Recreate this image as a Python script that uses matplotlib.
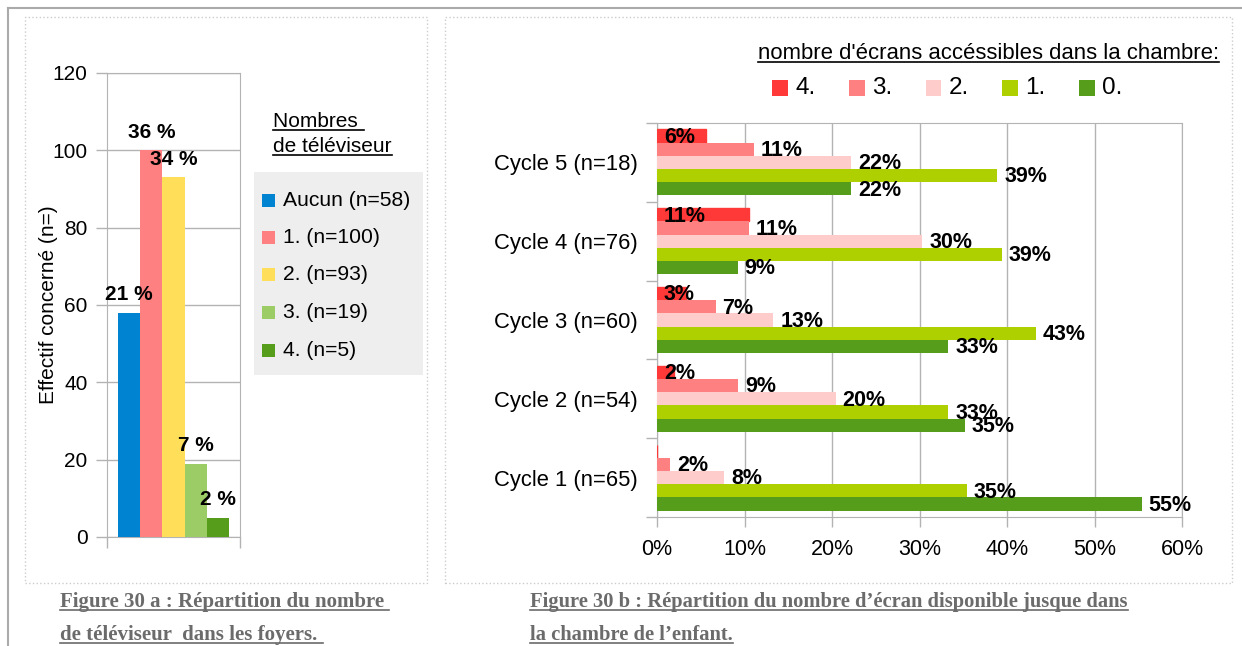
import matplotlib
matplotlib.use('Agg')
import matplotlib.pyplot as plt
from matplotlib.patches import Rectangle
from matplotlib.lines import Line2D
import numpy as np

plt.rcParams['font.family'] = ['Liberation Sans', 'DejaVu Sans']

W, H = 1242, 646

#~~~~~~~~~~~~~~~~~~~~~~~~~~~~~~~~~~~~~~~~~~~~~~~
# Figure 30 a : number of TV sets per household
#~~~~~~~~~~~~~~~~~~~~~~~~~~~~~~~~~~~~~~~~~~~~~~~
tv_labels = ['Aucun (n=58)', '1. (n=100)', '2. (n=93)', '3. (n=19)', '4. (n=5)']
tv_counts = [58, 100, 93, 19, 5]
tv_pct    = ['21 %', '36 %', '34 %', '7 %', '2 %']
tv_colors = ['#0084d1', '#ff8080', '#ffde59', '#9bcc66', '#579d1c']

#~~~~~~~~~~~~~~~~~~~~~~~~~~~~~~~~~~~~~~~~~~~~~~~
# Figure 30 b : screens reachable in the bedroom (% per cycle)
#~~~~~~~~~~~~~~~~~~~~~~~~~~~~~~~~~~~~~~~~~~~~~~~
cycles     = ['Cycle 1 (n=65)', 'Cycle 2 (n=54)', 'Cycle 3 (n=60)', 'Cycle 4 (n=76)', 'Cycle 5 (n=18)']
ecr_names  = ['4.', '3.', '2.', '1.', '0.']
ecr4 = [0.0, 1.9, 3.3, 10.5, 5.6]
ecr3 = [1.5, 9.3, 6.7, 10.5, 11.1]
ecr2 = [7.7, 20.4, 13.3, 30.3, 22.2]
ecr1 = [35.4, 33.3, 43.3, 39.4, 38.9]
ecr0 = [55.4, 35.2, 33.3, 9.2, 22.2]
ecr_colors = ['#ff3838', '#ff8080', '#ffcccc', '#aecf00', '#579d1c']

grey = '#b3b3b3'


def fx(px):
    return px / W


def fy(py):
    return 1 - py / H


fig = plt.figure(figsize=(W / 100, H / 100), dpi=100)
fig.patch.set_facecolor('white')

# page frame + dotted chart boxes
fig.add_artist(Line2D([fx(8), 1], [fy(8), fy(8)], color='#aaaaaa', lw=1.5, transform=fig.transFigure))
fig.add_artist(Line2D([fx(8), fx(8)], [fy(8), 0], color='#aaaaaa', lw=1.5, transform=fig.transFigure))
for x0, x1 in [(25, 427), (445, 1232)]:
    fig.add_artist(Rectangle((fx(x0), fy(583)), (x1 - x0) / W, (583 - 17) / H, fill=False,
                             ls=':', ec='#cccccc', lw=1, transform=fig.transFigure))

# ---------------- left chart ----------------
ax1 = fig.add_axes([fx(107), fy(537), (240 - 107) / W, (537 - 73) / H])
x = np.arange(len(tv_counts))
ax1.bar(x, tv_counts, width=1.0, color=tv_colors, zorder=3)
ax1.set_xlim(-1, 5)
ax1.set_ylim(0, 120)
ax1.set_yticks(range(0, 121, 20))
ax1.set_xticks([-1, 5])
ax1.set_xticklabels([])
ax1.grid(axis='y', color=grey, lw=1, zorder=0)
ax1.tick_params(axis='x', length=8, color=grey, width=1)
ax1.tick_params(axis='y', length=8, color=grey, width=1, labelsize=15, pad=6)
for s in ax1.spines.values():
    s.set_color(grey)
ax1.set_ylabel('Effectif concerné (n=)', fontsize=15)
ax1.yaxis.set_label_coords(-0.37, 0.5)
for i in range(len(tv_counts)):
    ax1.annotate(tv_pct[i], (x[i], tv_counts[i]), xytext=(0, 13), textcoords='offset points',
                 ha='center', va='center', fontsize=15, fontweight='bold', zorder=5)

# left legend (manual)
fig.add_artist(Rectangle((fx(254), fy(375)), (423 - 254) / W, (375 - 172) / H,
                         fc='#eeeeee', ec='none', transform=fig.transFigure))
for i, lab in enumerate(tv_labels):
    yc = 200 + 37.5 * i
    fig.add_artist(Rectangle((fx(262), fy(yc + 6.5)), 13 / W, 13 / H, fc=tv_colors[i], ec='none',
                             transform=fig.transFigure))
    fig.text(fx(283), fy(yc), lab, fontsize=15.2, va='center', ha='left')

leg_t1 = fig.text(fx(273), fy(127), 'Nombres ', fontsize=15, va='baseline', ha='left')
leg_t2 = fig.text(fx(273), fy(152), 'de téléviseur', fontsize=15, va='baseline', ha='left')

# ---------------- right chart ----------------
ax2 = fig.add_axes([fx(657), fy(517), 525 / W, (517 - 123) / H])
h = 0.1675
yc = np.arange(len(cycles))
series = [ecr4, ecr3, ecr2, ecr1, ecr0]
for i, vals in enumerate(series):
    yy = yc + (2 - i) * h
    if i == 0:
        ax2.barh(yy, vals, height=h, color=ecr_colors[i], ec=ecr_colors[i], lw=1, zorder=3)
    else:
        ax2.barh(yy, vals, height=h, color=ecr_colors[i], zorder=3)
    for v, y in zip(vals, yy):
        if v == 0:
            continue
        xpos = 0 if i == 0 else v
        ax2.annotate('%d%%' % int(v + 0.5), (xpos, y), xytext=(5, -1), textcoords='offset points',
                     ha='left', va='center', fontsize=15.5, fontweight='bold', zorder=5)

ax2.set_xlim(0, 60)
ax2.set_ylim(-0.5, 4.5)
ax2.set_xticks(range(0, 61, 10))
ax2.set_xticklabels(['%d%%' % v for v in range(0, 61, 10)])
ax2.set_yticks(yc)
ax2.set_yticklabels(cycles)
ax2.set_yticks(np.arange(-0.5, 5, 1), minor=True)
ax2.grid(axis='x', color=grey, lw=1, zorder=0)
ax2.tick_params(axis='x', length=7, color=grey, width=1, labelsize=15.5, pad=9)
ax2.tick_params(axis='y', which='major', length=0, labelsize=15.8, pad=14)
ax2.tick_params(axis='y', which='minor', length=8, color=grey, width=1)
for s in ax2.spines.values():
    s.set_color(grey)

# right legend (manual)
leg_t3 = fig.text(fx(758), fy(59), "nombre d'écrans accéssibles dans la chambre:", fontsize=15.9,
                  va='baseline', ha='left')
for i, nm in enumerate(ecr_names):
    x0 = 772 + 76.75 * i
    fig.add_artist(Rectangle((fx(x0), fy(96)), 16 / W, 16 / H, fc=ecr_colors[i], ec='none',
                             transform=fig.transFigure))
    fig.text(fx(x0 + 23), fy(88), nm, fontsize=17.5, va='center', ha='left')

# captions
cap_kw = dict(fontsize=15, fontweight='bold', family=['Liberation Serif', 'DejaVu Serif'],
              color='#6b6b6b', va='baseline', ha='left')
cap1 = fig.text(fx(60), fy(607), 'Figure 30 a : Répartition du nombre ', **cap_kw)
cap2 = fig.text(fx(60), fy(640), 'de téléviseur  dans les foyers. ', **cap_kw)
cap_kw['fontsize'] = 14.8
cap3 = fig.text(fx(530), fy(607), 'Figure 30 b : Répartition du nombre d\u2019écran disponible jusque dans', **cap_kw)
cap4 = fig.text(fx(530), fy(640), 'la chambre de l\u2019enfant.', **cap_kw)

# underline texts
fig.canvas.draw()
rend = fig.canvas.get_renderer()
for t, col in [(leg_t1, 'black'), (leg_t2, 'black'), (leg_t3, 'black'),
               (cap1, '#6b6b6b'), (cap2, '#6b6b6b'), (cap3, '#6b6b6b'), (cap4, '#6b6b6b')]:
    bb = t.get_window_extent(renderer=rend)
    yb = fig.transFigure.transform(t.get_position())[1] - 3
    fig.add_artist(Line2D([bb.x0 / W, bb.x1 / W], [yb / H, yb / H], color=col, lw=1.2,
                          transform=fig.transFigure))

fig.savefig('out.png', dpi=100)
